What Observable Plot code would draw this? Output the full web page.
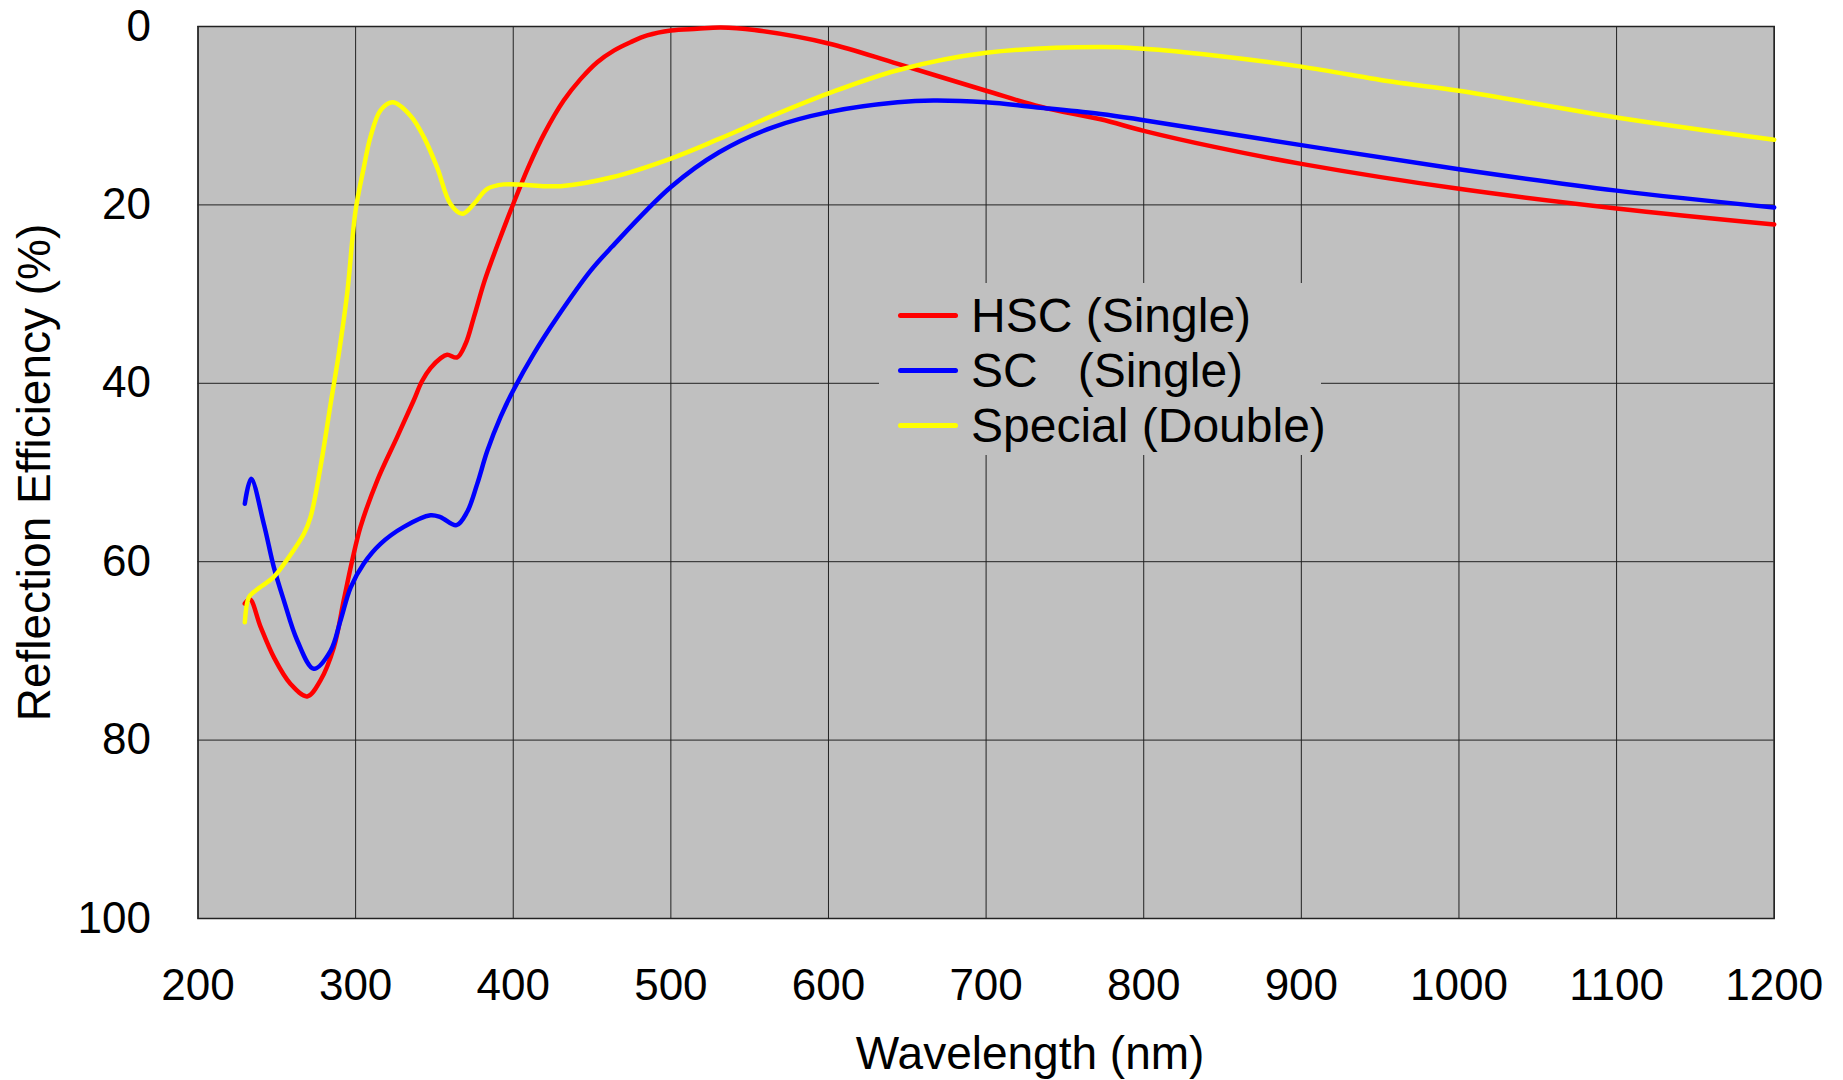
<!DOCTYPE html>
<html>
<head>
<meta charset="utf-8">
<script src="https://cdn.jsdelivr.net/npm/d3@7"></script>
<script src="https://cdn.jsdelivr.net/npm/@observablehq/plot@0.6"></script>
<style>
html, body { margin: 0; padding: 0; background: #fff; }
#wrap { position: relative; width: 1843px; height: 1080px; font-family: "Liberation Sans", Arial, sans-serif; }
#legend { position: absolute; left: 879px; top: 283px; width: 442px; height: 172px; background: #c0c0c0; }
.row { position: absolute; left: 0; height: 56px; display: flex; align-items: center; white-space: pre; font-size: 48px; color: #000; }
.sw { width: 60px; height: 5px; border-radius: 2.5px; margin-left: 19px; margin-right: 13px; }
</style>
</head>
<body>
<div id="wrap"></div>
<script>
// ---- data ----
const seriesNames = ["HSC (Single)", "SC   (Single)", "Special (Double)"];
const seriesColors = ["#ff0000", "#0000ff", "#ffff00"];

const hscNm  = [229.7, 232.9, 239.7, 248.1, 258.7, 269.3, 277.7, 286.2, 292.5, 297.8, 303.1, 313.7, 326.4, 336.9, 342, 347.5, 353.8, 358.1, 364.4, 369.7, 375, 381.3, 385.6, 391.9, 400, 410, 420, 432, 442.7, 453.3, 463.8, 474.4, 485, 500, 516.7, 531.7, 553, 600, 644, 700, 734.5, 772.6, 800, 844.8, 900, 1000, 1100, 1200];
const hscVal = [64.7, 64.2, 67.3, 70.7, 73.7, 75.1, 73.3, 69.6, 64.3, 59.9, 56.1, 50.9, 46.0, 41.9, 39.8, 38.3, 37.2, 36.8, 37.1, 35.6, 32.6, 28.8, 26.6, 23.6, 19.9, 15.6, 11.9, 8.3, 5.9, 4.0, 2.7, 1.76, 1.0, 0.45, 0.26, 0.12, 0.4, 1.9, 4.2, 7.2, 9.0, 10.4, 11.7, 13.5, 15.4, 18.2, 20.4, 22.2];

const scNm  = [229.7, 233.7, 241.8, 248.1, 254.4, 262.9, 273.5, 284.1, 290.4, 296.8, 305.2, 315.8, 330.6, 347.5, 353.8, 364, 370.8, 377.1, 383.5, 391.9, 400, 413, 427.9, 449, 462.6, 500, 530.6, 564.6, 600, 643.9, 666.6, 700, 734.5, 772.6, 800, 900, 1000, 1100, 1200];
const scVal = [53.5, 50.7, 55.8, 60.6, 64.3, 68.8, 72.0, 70.0, 66.6, 62.9, 60.2, 58.0, 56.1, 54.8, 55.0, 55.9, 54.4, 51.3, 47.6, 43.8, 40.8, 36.7, 32.6, 27.4, 24.7, 18.0, 14.1, 11.3, 9.6, 8.5, 8.3, 8.5, 9.1, 9.8, 10.5, 13.3, 16.0, 18.4, 20.3];

const spNm  = [229.7, 232.2, 235.4, 240.7, 248.1, 257.6, 267.1, 271.4, 277.7, 284.5, 289.5, 294.6, 300, 305.2, 309.4, 315.8, 323.6, 334.8, 343.3, 351.7, 360.2, 367.6, 375, 383.5, 394, 430, 462.6, 500, 530.6, 564.6, 600, 643.9, 700, 772.6, 800, 844.8, 900, 958, 1000, 1100, 1200];
const spVal = [66.8, 64.0, 63.4, 62.7, 61.7, 59.5, 56.9, 55.0, 49.4, 41.9, 36.5, 30.0, 20.6, 15.8, 12.4, 9.4, 8.5, 10.0, 12.4, 15.8, 19.9, 21.0, 19.9, 18.2, 17.7, 17.9, 16.9, 14.8, 12.6, 10.0, 7.5, 4.9, 2.95, 2.3, 2.5, 3.25, 4.5, 6.2, 7.2, 10.2, 12.7];

const xTicks = [200, 300, 400, 500, 600, 700, 800, 900, 1000, 1100, 1200];
const yTicks = [0, 20, 40, 60, 80, 100];
const xTitle = "Wavelength (nm)";
const yTitle = "Reflection Efficiency (%)";

// ---- build table ----
const rows = [];
[[hscNm, hscVal], [scNm, scVal], [spNm, spVal]].forEach(([nm, v], i) => {
  nm.forEach((x, j) => rows.push({ series: seriesNames[i], nm: x, val: v[j] }));
});

const font = '"Liberation Sans", Arial, sans-serif';
const chart = Plot.plot({
  width: 1843,
  height: 1080,
  marginLeft: 197.5,
  marginRight: 69.3,
  marginTop: 26,
  marginBottom: 162,
  style: { fontFamily: font, fontSize: "44px", color: "#000", background: "transparent", overflow: "visible" },
  x: { domain: [200, 1200], label: null },
  y: { domain: [0, 100], reverse: true, label: null },
  color: { domain: seriesNames, range: seriesColors },
  marks: [
    Plot.frame({ fill: "#c0c0c0" }),
    Plot.gridX(xTicks, { stroke: "#222", strokeOpacity: 1, strokeWidth: 1 }),
    Plot.gridY(yTicks, { stroke: "#222", strokeOpacity: 1, strokeWidth: 1 }),
    Plot.frame({ stroke: "#222", strokeWidth: 1.5 }),
    Plot.axisX(xTicks, { tickSize: 0, tickPadding: 50, fontSize: 44, label: null, tickFormat: d => String(d) }),
    Plot.axisY(yTicks, { tickSize: 0, tickPadding: 47, fontSize: 44, label: null, tickFormat: d => String(d) }),
    Plot.line(rows, { x: "nm", y: "val", z: "series", stroke: "series", strokeWidth: 4.5, curve: "catmull-rom" }),
    Plot.text([xTitle], { text: d => d, frameAnchor: "bottom", lineAnchor: "middle", textAnchor: "middle", dy: 136, dx: 44, fontSize: 46 }),
    Plot.text([yTitle], { text: d => d, frameAnchor: "left", lineAnchor: "middle", textAnchor: "middle", rotate: -90, dx: -162.5, dy: 0, fontSize: 46 })
  ]
});

const wrap = document.getElementById("wrap");
wrap.appendChild(chart);

// legend (HTML overlay inside the plot area)
const legend = document.createElement("div");
legend.id = "legend";
seriesNames.forEach((name, i) => {
  const r = document.createElement("div");
  r.className = "row";
  r.style.top = (4 + i * 55) + "px";
  const sw = document.createElement("div");
  sw.className = "sw";
  sw.style.background = seriesColors[i];
  const t = document.createElement("span");
  t.textContent = name;
  r.appendChild(sw);
  r.appendChild(t);
  legend.appendChild(r);
});
wrap.appendChild(legend);
</script>
</body>
</html>
